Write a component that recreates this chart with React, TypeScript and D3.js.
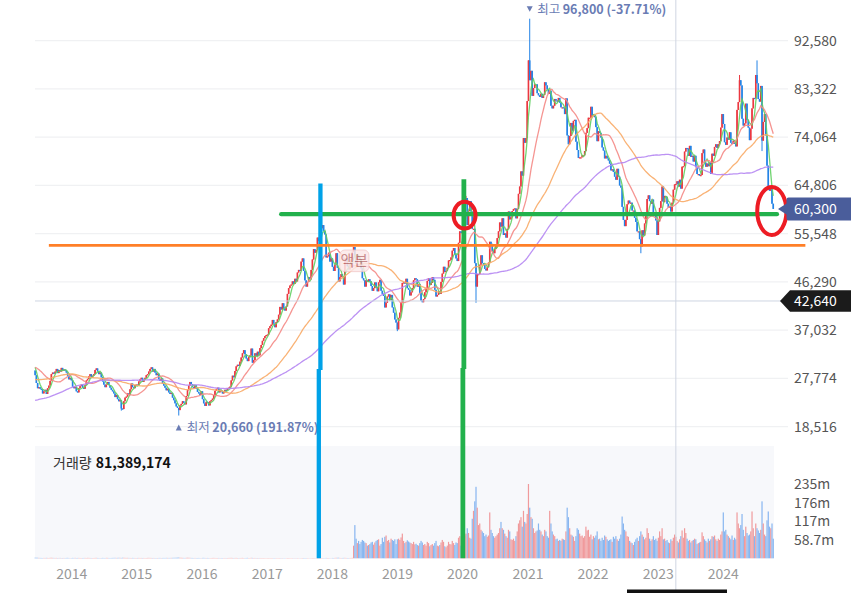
import * as d3 from "d3";
import React from "react";

const W = 851;
const H = 593;
const FONT = "'Noto Sans CJK KR', 'Noto Sans', sans-serif";

// weekly closes in thousand won (split adjusted); the prior ones only feed the moving averages
const prior2011 = [18.8, 18.9, 18.2, 18.9, 19.0, 19.2, 19.1, 18.6, 18.7, 17.9, 17.6, 17.3, 17.6, 17.8, 17.5, 17.2, 16.9, 17.1, 17.3, 17.7, 17.9, 17.6, 15.8, 14.5, 13.9, 14.6, 15.2, 15.9, 16.4, 15.8, 16.2, 17.6, 18.5, 19.2, 19.6, 19.9, 20.1, 19.8, 19.4, 19.9, 20.6, 20.9, 20.4, 21.1];
const prior2012 = [21.4, 21.8, 22.0, 22.3, 22.6, 22.9, 23.2, 23.3, 23.6, 24.1, 24.8, 25.2, 25.0, 25.5, 26.6, 26.4, 27.1, 26.8, 26.0, 25.4, 24.6, 23.8, 23.3, 23.8, 23.4, 23.7, 24.0, 23.7, 23.2, 24.4, 25.3, 25.4, 25.1, 25.6, 25.3, 26.0, 26.4, 26.7, 26.5, 26.8, 26.3, 26.5, 26.0, 26.9, 27.2, 27.6, 28.2, 28.4, 28.9, 29.6, 30.1, 30.4, 30.5];
const prior2013 = [29.8, 29.0, 27.9, 28.4, 29.2, 29.6, 30.1, 29.8, 30.2, 30.5, 30.0, 29.6, 29.5, 30.1, 30.4, 30.2, 29.9, 30.6, 30.8, 30.7, 30.4, 29.3];

const close2013 = [28.4, 26.9, 25.9, 26.1, 25.8, 25.7, 24.9, 25.3, 25.6, 24.8, 25.9, 26.4, 27.3, 28.6, 28.9, 28.7, 29.1, 29.6, 28.8, 29.4, 29.1, 29.8, 29.3, 29.5, 29.3, 28.9, 28.3, 27.6, 27.9, 27.4];
const close2014 = [26.2, 25.9, 26.1, 25.3, 25.1, 25.9, 26.3, 26.6, 26.0, 25.8, 26.5, 27.4, 27.7, 28.2, 28.6, 27.9, 28.3, 28.6, 29.4, 29.7, 29.1, 28.6, 28.9, 28.0, 27.2, 26.6, 26.1, 26.6, 27.1, 26.5, 26.0, 25.6, 25.3, 24.9, 24.2, 24.6, 23.8, 23.4, 23.6, 22.0, 21.9, 23.4, 24.1, 24.3, 24.9, 24.6, 25.7, 26.8, 26.1, 25.9, 26.5, 26.6];
const close2015 = [26.4, 27.2, 27.6, 27.9, 27.1, 27.5, 27.9, 28.4, 28.6, 29.1, 29.6, 29.9, 29.1, 29.6, 28.9, 28.4, 28.7, 27.6, 27.3, 27.8, 26.8, 26.4, 26.0, 25.5, 25.8, 25.1, 24.8, 25.0, 24.1, 23.6, 23.0, 22.4, 22.1, 21.7, 22.6, 22.9, 23.4, 23.1, 22.8, 24.4, 25.5, 26.4, 27.1, 26.7, 26.1, 25.9, 26.5, 25.8, 25.2, 24.9, 24.6, 25.3];
const close2016 = [23.8, 23.0, 22.5, 23.3, 23.2, 22.6, 23.4, 23.6, 23.9, 24.6, 25.4, 25.7, 26.0, 25.1, 25.6, 25.3, 24.9, 25.1, 25.6, 25.5, 25.9, 26.0, 26.2, 27.4, 28.3, 28.0, 29.2, 30.1, 30.4, 30.2, 31.0, 31.8, 32.6, 33.2, 32.4, 31.6, 31.1, 31.9, 32.2, 33.5, 30.8, 31.3, 32.6, 32.1, 32.9, 32.2, 33.6, 34.2, 35.0, 35.5, 35.9, 36.1];
const close2017 = [36.2, 37.4, 37.8, 38.1, 39.0, 38.3, 37.6, 38.6, 39.1, 40.0, 41.5, 41.0, 42.2, 41.2, 40.8, 41.6, 44.0, 45.1, 45.6, 45.8, 46.4, 45.9, 46.9, 46.4, 48.1, 48.6, 48.4, 50.2, 50.8, 48.4, 46.6, 45.4, 46.3, 47.2, 46.8, 48.6, 50.6, 52.6, 51.9, 52.4, 54.8, 54.2, 55.6, 56.6, 57.2, 56.1, 55.4, 51.0, 51.2, 51.9, 50.2, 50.8];
const close2018 = [49.2, 48.4, 49.6, 51.8, 49.0, 46.4, 47.2, 47.8, 47.4, 45.8, 50.2, 50.8, 49.3, 48.7, 49.5, 50.6, 52.1, 53.0, 51.3, 49.8, 51.3, 51.0, 50.6, 48.9, 47.0, 46.6, 45.4, 46.6, 46.3, 46.8, 46.4, 45.5, 44.6, 45.1, 46.2, 45.3, 44.5, 46.2, 46.7, 44.6, 44.0, 43.6, 41.4, 42.3, 43.5, 43.9, 42.8, 43.8, 41.4, 40.4, 39.1, 38.5, 37.2];
const close2019 = [39.4, 40.4, 42.3, 46.1, 46.2, 46.0, 46.9, 45.1, 44.8, 43.7, 44.3, 45.1, 46.6, 47.0, 46.8, 45.4, 45.9, 44.2, 42.7, 42.4, 43.0, 44.3, 44.9, 46.5, 47.0, 45.7, 46.1, 47.2, 46.7, 44.8, 43.5, 43.8, 44.5, 44.0, 46.3, 47.9, 49.2, 48.2, 48.4, 49.0, 50.4, 50.5, 51.0, 52.3, 52.8, 51.6, 50.8, 50.3, 53.8, 56.0, 55.7, 55.8];
const close2020 = [59.5, 61.3, 62.4, 57.2, 59.9, 61.8, 59.8, 56.5, 56.5, 49.9, 45.4, 47.8, 47.8, 49.6, 51.4, 49.9, 49.6, 48.8, 48.5, 49.1, 50.0, 54.0, 53.6, 52.2, 51.8, 52.6, 53.4, 54.7, 56.0, 57.7, 56.9, 58.5, 55.3, 55.6, 54.8, 56.5, 59.8, 58.3, 58.7, 59.9, 60.3, 60.4, 58.5, 60.3, 63.2, 64.6, 67.5, 66.7, 73.9, 73.0, 73.9, 81.0];
const close2021 = [88.8, 85.0, 86.8, 82.0, 83.5, 84.2, 84.2, 82.5, 82.1, 81.8, 82.4, 81.6, 82.2, 84.6, 84.0, 83.2, 82.4, 83.0, 80.1, 79.6, 80.1, 81.4, 81.1, 80.9, 81.6, 80.7, 79.8, 79.8, 79.7, 78.5, 81.5, 74.4, 72.7, 74.3, 76.8, 75.3, 77.2, 77.4, 73.2, 71.6, 70.1, 70.2, 70.2, 70.6, 70.6, 71.4, 74.9, 75.8, 77.8, 77.8, 79.9, 78.3];
const close2022 = [78.3, 77.9, 76.0, 73.3, 75.2, 74.9, 74.0, 72.1, 71.5, 70.0, 70.5, 70.0, 69.6, 69.0, 67.7, 67.9, 67.4, 66.5, 65.9, 68.0, 66.5, 64.8, 64.4, 60.7, 58.2, 57.0, 58.2, 61.2, 61.9, 61.4, 61.5, 60.0, 60.0, 58.6, 57.8, 56.0, 56.0, 54.5, 53.1, 56.2, 55.2, 57.5, 59.4, 62.2, 62.9, 61.8, 61.3, 62.1, 59.3, 59.1, 58.1, 55.3];
const close2023 = [57.9, 60.5, 61.8, 64.6, 61.6, 62.8, 62.6, 61.3, 60.6, 60.8, 59.8, 61.5, 64.0, 65.0, 65.1, 65.6, 64.6, 65.9, 64.2, 68.4, 68.5, 71.3, 72.0, 71.9, 70.5, 72.4, 70.3, 70.5, 69.4, 70.5, 68.3, 67.0, 67.0, 66.7, 66.8, 71.0, 71.7, 69.2, 68.4, 69.0, 68.5, 69.2, 67.0, 70.9, 70.5, 72.2, 72.7, 72.0, 72.7, 73.3, 75.9, 78.5];
const close2024 = [76.6, 73.1, 72.6, 74.0, 73.6, 75.0, 73.0, 72.8, 73.4, 72.8, 72.3, 79.3, 80.8, 85.0, 84.0, 77.6, 76.3, 76.7, 80.5, 77.4, 75.9, 73.5, 75.7, 79.6, 81.6, 81.5, 86.0, 84.4, 81.4, 80.9, 83.9, 73.4, 77.0, 78.5, 74.4, 68.6, 64.4, 63.8, 64.2, 61.3, 60.3];

// weekly volume in millions of shares (pre-split volumes are tiny)
const vol2013 = [1.9, 1.7, 1.6, 1.3, 1.2, 1.1, 1.0, 1.2, 1.1, 1.3, 1.2, 1.0, 1.4, 1.5, 1.3, 1.2, 1.1, 1.2, 1.0, 1.1, 1.2, 0.9, 1.0, 1.1, 1.0, 1.2, 1.3, 1.1, 0.8, 0.9];
const vol2014 = [1.2, 1.1, 1.3, 1.0, 1.1, 1.2, 1.0, 0.9, 1.0, 1.1, 1.2, 1.0, 1.3, 1.2, 1.1, 1.0, 0.9, 1.0, 1.2, 1.3, 1.1, 1.0, 0.9, 1.0, 1.2, 1.1, 1.0, 1.3, 1.2, 1.1, 1.0, 1.1, 1.2, 1.3, 1.4, 1.2, 1.3, 1.5, 1.4, 1.2, 1.6, 1.5, 1.3, 1.2, 1.3, 1.2, 1.1, 1.0, 1.2, 1.1, 1.0, 0.9];
const vol2015 = [1.1, 1.2, 1.0, 1.1, 1.0, 1.1, 0.9, 1.0, 1.2, 1.3, 1.2, 1.1, 1.0, 1.1, 1.0, 0.9, 1.0, 1.1, 1.2, 1.0, 1.1, 1.2, 1.1, 1.3, 1.2, 1.1, 1.2, 1.3, 1.4, 1.5, 1.6, 1.7, 1.9, 2.2, 1.6, 1.5, 1.3, 1.2, 1.1, 1.4, 1.6, 1.5, 1.3, 1.2, 1.1, 1.0, 1.1, 1.0, 1.0, 1.1, 0.9, 0.8];
const vol2016 = [1.2, 1.3, 1.1, 1.0, 1.1, 1.0, 0.9, 1.0, 1.1, 1.2, 1.1, 1.0, 1.0, 1.1, 0.9, 1.0, 0.9, 0.9, 1.0, 0.9, 1.0, 1.1, 1.2, 1.3, 1.1, 1.0, 1.1, 1.2, 1.0, 0.9, 1.0, 1.1, 1.2, 1.0, 0.9, 1.1, 1.3, 1.0, 0.9, 1.4, 1.2, 1.0, 1.1, 0.9, 1.0, 0.9, 1.0, 0.9, 0.8, 0.9, 0.8, 0.7];
const vol2017 = [0.8, 0.9, 0.8, 0.9, 0.8, 0.8, 0.9, 0.8, 0.7, 0.8, 0.9, 0.8, 0.8, 0.7, 0.8, 0.7, 0.9, 0.9, 0.8, 0.7, 0.8, 0.7, 0.8, 0.7, 0.8, 0.7, 0.7, 0.8, 0.9, 1.0, 0.9, 0.9, 0.8, 0.7, 0.7, 0.8, 0.9, 0.9, 0.8, 0.6, 0.9, 0.8, 0.9, 1.0, 0.9, 0.8, 0.8, 1.2, 1.0, 0.9, 0.8, 0.6];
const vol2018 = [1.1, 1.0, 1.2, 1.4, 1.5, 1.6, 1.2, 1.0, 1.1, 1.2, 1.3, 1.1, 1.0, 0.9, 1.0, 1.1, 1.3, 39.9, 105, 62, 48, 55, 45, 52, 58, 55, 50, 48, 40, 42, 45, 50, 52, 43, 50, 55, 58, 60, 40, 45, 65, 52, 68, 72, 55, 58, 50, 62, 58, 55, 60, 45, 60];
const vol2019 = [62, 58, 66, 78, 55, 48, 52, 57, 53, 50, 48, 45, 52, 44, 46, 42, 40, 48, 55, 50, 42, 45, 40, 52, 48, 38, 42, 45, 40, 48, 55, 40, 38, 42, 50, 58, 52, 38, 35, 40, 52, 45, 44, 55, 48, 42, 50, 48, 65, 70, 40, 42];
const vol2020 = [85, 72, 78, 95, 80, 65, 62, 125, 150, 180, 226, 160, 105, 110, 90, 85, 80, 70, 75, 68, 72, 145, 90, 80, 70, 65, 70, 75, 80, 95, 115, 95, 90, 78, 70, 65, 90, 85, 60, 58, 62, 55, 70, 85, 110, 120, 130, 100, 150, 115, 110, 140];
const vol2021 = [234.8, 160, 130, 125, 95, 80, 85, 88, 110, 90, 85, 75, 70, 90, 85, 70, 65, 150, 110, 85, 75, 70, 60, 62, 55, 58, 55, 62, 60, 58, 85, 160, 130, 95, 75, 72, 68, 55, 70, 95, 90, 78, 70, 72, 65, 70, 100, 88, 90, 68, 75, 60];
const vol2022 = [70, 65, 72, 85, 60, 62, 55, 65, 58, 72, 68, 60, 55, 58, 60, 52, 68, 62, 70, 60, 55, 62, 75, 132, 110, 90, 85, 70, 68, 55, 50, 48, 42, 52, 60, 65, 55, 70, 85, 75, 68, 60, 65, 95, 80, 62, 55, 60, 70, 58, 62, 55];
const vol2023 = [65, 85, 70, 95, 60, 62, 55, 58, 50, 48, 60, 55, 65, 75, 68, 55, 50, 60, 70, 88, 65, 95, 80, 62, 55, 58, 50, 55, 58, 62, 60, 45, 48, 50, 52, 82, 70, 60, 55, 50, 62, 55, 60, 70, 68, 72, 60, 55, 62, 58, 75, 85];
const vol2024 = [145, 85, 90, 75, 70, 65, 60, 72, 58, 65, 60, 145, 110, 95, 105, 140, 90, 70, 100, 80, 72, 75, 85, 148, 95, 70, 110, 95, 88, 80, 90, 180, 110, 75, 70, 120, 148, 100, 95, 110, 62];

const yearStarts = ["2013-06-10", "2014-01-06", "2015-01-05", "2016-01-04", "2017-01-02", "2018-01-01", "2019-01-07", "2020-01-06", "2021-01-04", "2022-01-03", "2023-01-02", "2024-01-01"];
const closesByYear = [close2013, close2014, close2015, close2016, close2017, close2018, close2019, close2020, close2021, close2022, close2023, close2024];
const volumesByYear = [vol2013, vol2014, vol2015, vol2016, vol2017, vol2018, vol2019, vol2020, vol2021, vol2022, vol2023, vol2024];

// intraweek extremes that stick out of the bodies
const wickHighs: [string, number][] = [["2017-10-30", 57.5], ["2020-01-20", 62.8], ["2021-01-11", 96.8], ["2024-04-01", 86.0], ["2024-07-08", 88.8]];
const wickLows: [string, number][] = [["2014-10-06", 21.6], ["2015-08-24", 20.66], ["2018-12-31", 36.85], ["2020-03-16", 42.3], ["2022-09-26", 51.8], ["2024-08-05", 71.4]];

const priceTicks = [18516, 27774, 37032, 46290, 55548, 64806, 74064, 83322, 92580];
const yearTicks = [2014, 2015, 2016, 2017, 2018, 2019, 2020, 2021, 2022, 2023, 2024];
const maPeriods = [5, 20, 60, 120];
const maColors = ["#62cf62", "#f48a86", "#f8aa66", "#b586f2"];

const volumeText = "81,389,174";
const crosshair = { week: "2023-04-10", price: 42640 };
const splitDay = "2018-05-04";

const parse = d3.timeParse("%Y-%m-%d");
const keyOf = d3.timeFormat("%Y-%m-%d");

type Week = { date: Date; open: number; close: number; high: number; low: number; volume: number };

const prior = [...prior2011, ...prior2012, ...prior2013];
const highMap = new Map(wickHighs);
const lowMap = new Map(wickLows);

const weeks: Week[] = [];
let prevClose = prior[prior.length - 1];
yearStarts.forEach((s, yi) => {
  const d0 = parse(s)!;
  closesByYear[yi].forEach((c, i) => {
    const date = d3.timeDay.offset(d0, 7 * i);
    const key = keyOf(date);
    const open = prevClose;
    const high = Math.max(open, c, highMap.get(key) ?? 0);
    const low = Math.min(open, c, lowMap.get(key) ?? Infinity);
    weeks.push({ date, open: open * 1000, close: c * 1000, high: high * 1000, low: low * 1000, volume: volumesByYear[yi][i] * 1e6 });
    prevClose = c;
  });
});

const allCloses = [...prior, ...weeks.map((w) => w.close / 1000)];
const movingAverages = maPeriods.map((n) =>
  weeks.map((_, j) => {
    const k = prior.length + j;
    if (k - n + 1 < 0) return null;
    return d3.mean(allCloses.slice(k - n + 1, k + 1))! * 1000;
  })
);

const x = d3.scaleTime().domain([new Date(2014, 0, 1), new Date(2024, 0, 1)]).range([71.7, 723.3]);
const y = d3.scaleLinear().domain([18516, 92580]).range([426.7, 40.7]);
const maxVol = d3.max(weeks, (w) => w.volume)!;
const yv = d3.scaleLinear().domain([0, maxVol]).range([558.3, 484]);
const volTicks = [1, 0.75, 0.5, 0.25].map((f) => maxVol * f);

const fmtComma = d3.format(",");
const fmtVol = (v: number) => d3.format(".3s")(v).replace("M", "m");

const last = weeks[weeks.length - 1];
const topWeek = weeks.reduce((a, b) => (b.high > a.high ? b : a));
const bottomWeek = weeks.reduce((a, b) => (b.low < a.low ? b : a));
const pct = (v: number) => d3.format(".2f")((last.close / v - 1) * 100).replace("−", "-") + "%";

const RED = "#eb3840";
const BLUE = "#2483e6";
const NOTE = "#6a7cb4";

export default function App() {
  const plotL = 35;
  const gridR = 788;
  const volTop = 446;
  const volBase = yv(0);
  const maLine = d3
    .line<number | null>()
    .defined((v) => v != null)
    .x((_, i) => x(weeks[i].date))
    .y((v) => y(v as number));

  const cx = x(parse(crosshair.week)!);
  const cy = y(crosshair.price);
  const lastY = y(last.close);
  const splitX = x(parse(splitDay)!);
  const splitWeek = weeks.find((w) => w.date >= parse(splitDay)!)!;
  const splitY = y(splitWeek.close) + 5;
  const topX = x(topWeek.date);
  const botX = x(bottomWeek.date);
  const d = (s: string) => x(parse(s)!);

  return (
    <svg width={W} height={H} style={{ position: "absolute", left: 0, top: 0, background: "#fff", fontFamily: FONT }}>
      {/* grid */}
      {priceTicks.map((t) => (
        <line key={t} x1={plotL} x2={gridR} y1={y(t)} y2={y(t)} stroke="#f0f1f3" strokeWidth={1.2} />
      ))}
      {/* volume pane */}
      <rect x={plotL} y={volTop} width={774 - plotL} height={volBase - volTop} fill="#f7f8fb" />
      {weeks.map((w, i) => (
        <rect
          key={"v" + i}
          x={x(w.date) - 0.6}
          y={yv(w.volume)}
          width={1.2}
          height={volBase - yv(w.volume)}
          fill={w.close >= w.open ? "#f09a9c" : "#88b6f0"}
        />
      ))}
      {/* crosshair vertical */}
      <line x1={cx} x2={cx} y1={0} y2={H} stroke="#cfd5e2" strokeWidth={1} />
      {/* candles */}
      {weeks.map((w, i) => {
        const px = x(w.date);
        const up = w.close >= w.open;
        const c = up ? RED : BLUE;
        const yTop = y(Math.max(w.open, w.close));
        const yBot = y(Math.min(w.open, w.close));
        return (
          <g key={"c" + i}>
            <line x1={px} x2={px} y1={y(w.high)} y2={y(w.low)} stroke={c} strokeWidth={1} />
            <rect x={px - 0.8} y={yTop} width={1.6} height={Math.max(1.2, yBot - yTop)} fill={c} />
          </g>
        );
      })}
      {/* moving averages */}
      {movingAverages.map((ma, i) => (
        <path key={"ma" + i} d={maLine(ma) || ""} fill="none" stroke={maColors[i]} strokeWidth={1.3} opacity={0.9} />
      ))}
      {/* split marker */}
      <g opacity={0.85}>
        <rect x={splitX - 14.6} y={splitY - 10.8} width={29.2} height={21.6} rx={5} fill="#fce9e9" stroke="#f3caca" />
        <text x={splitX} y={splitY} dy="0.36em" textAnchor="middle" fontSize={15} fill="#c07878">
          액분
        </text>
      </g>
      {/* high / low markers */}
      <path d={`M${topX - 3},${y(topWeek.high) - 12.5} L${topX + 3},${y(topWeek.high) - 12.5} L${topX},${y(topWeek.high) - 7} Z`} fill={NOTE} />
      <text x={topX + 7.5} y={y(topWeek.high) - 5.2} fontSize={12.5} fill={NOTE}>
        최고<tspan dx={2.5} fontWeight="bold">{fmtComma(topWeek.high)} ({pct(topWeek.high)})</tspan>
      </text>
      <path d={`M${botX - 3},${y(bottomWeek.low) + 15} L${botX + 3},${y(bottomWeek.low) + 15} L${botX},${y(bottomWeek.low) + 9} Z`} fill={NOTE} />
      <text x={botX + 8} y={y(bottomWeek.low) + 16} fontSize={12.5} fill={NOTE}>
        최저<tspan dx={2.5} fontWeight="bold">{fmtComma(bottomWeek.low)} ({pct(bottomWeek.low)})</tspan>
      </text>
      {/* crosshair horizontal */}
      <line x1={plotL} x2={782} y1={cy} y2={cy} stroke="#cfd5e2" strokeWidth={1} />

      {/* hand-drawn marks */}
      <line x1={d("2017-03-20")} x2={d("2024-10-28")} y1={y(59300)} y2={y(59300)} stroke="#22b14c" strokeWidth={4.2} strokeLinecap="round" />
      <line x1={d("2017-10-26")} x2={d("2017-10-26")} y1={y(65200)} y2={y(29400)} stroke="#00a2e8" strokeWidth={4.3} />
      <line x1={d("2017-10-26") - 1.6} x2={d("2017-10-26") - 1.6} y1={y(29400) - 1} y2={volBase} stroke="#00a2e8" strokeWidth={4.3} />
      <line x1={d("2020-01-08")} x2={d("2020-01-08")} y1={y(66000)} y2={y(29600)} stroke="#22b14c" strokeWidth={4.8} />
      <line x1={d("2020-01-08") - 1} x2={d("2020-01-08") - 1} y1={y(29600) - 1} y2={volBase} stroke="#22b14c" strokeWidth={4.8} />
      <line x1={d("2013-08-26")} x2={d("2025-04-05")} y1={y(53300)} y2={y(53300)} stroke="#ff7f27" strokeWidth={2.7} />
      <ellipse cx={d("2020-01-12")} cy={y(59100)} rx={11} ry={13.4} fill="none" stroke="#ed1c24" strokeWidth={4} />
      <ellipse cx={d("2024-09-29")} cy={y(59900)} rx={14.6} ry={24} fill="none" stroke="#ed1c24" strokeWidth={4} />

      {/* price axis */}
      {priceTicks.map((t) => (
        <text key={"pt" + t} x={794} y={y(t)} dy="0.36em" fontSize={14} fill="#555">
          {fmtComma(t)}
        </text>
      ))}
      <path
        d={`M778,${lastY} L786.5,${lastY - 5.5} L786.5,${lastY - 9.5} Q786.5,${lastY - 11.5} 788.5,${lastY - 11.5} L851,${lastY - 11.5} L851,${lastY + 11.5} L788.5,${lastY + 11.5} Q786.5,${lastY + 11.5} 786.5,${lastY + 9.5} L786.5,${lastY + 5.5} Z`}
        fill="#4a5d9b"
      />
      <text x={794} y={lastY} dy="0.36em" fontSize={14} fill="#fff">
        {fmtComma(last.close)}
      </text>
      <path d={`M780,${cy} L790,${cy - 10.8} L851,${cy - 10.8} L851,${cy + 10.8} L790,${cy + 10.8} Z`} fill="#1b1b1b" />
      <text x={794} y={cy} dy="0.36em" fontSize={14} fill="#fff">
        {fmtComma(crosshair.price)}
      </text>

      {/* volume axis */}
      {volTicks.map((t) => (
        <text key={"vt" + t} x={794} y={yv(t)} dy="0.36em" fontSize={14} fill="#555">
          {fmtVol(t)}
        </text>
      ))}
      <text x={53} y={468} fontSize={14} fill="#333">
        거래량<tspan dx={4} fontWeight="bold" fill="#111">{volumeText}</tspan>
      </text>

      {/* time axis */}
      {yearTicks.map((yr) => (
        <text key={"yr" + yr} x={x(new Date(yr, 0, 1))} y={574} dy="0.36em" textAnchor="middle" fontSize={14} fill="#999">
          {yr}
        </text>
      ))}
      <rect x={627} y={589.5} width={100} height={3.5} fill="#111" />
    </svg>
  );
}
